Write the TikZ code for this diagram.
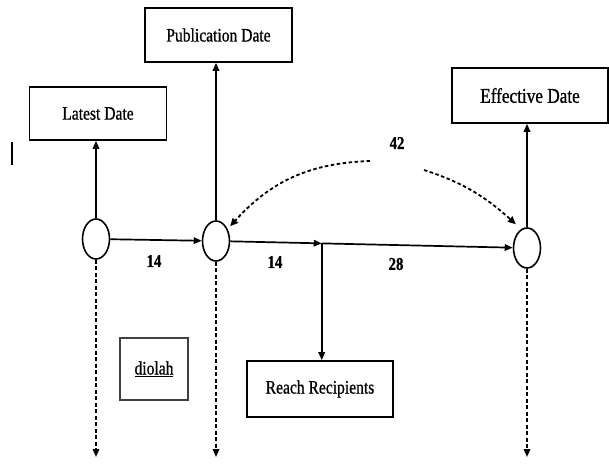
\documentclass[tikz,border=0pt]{standalone}
\usepackage{fontspec}
\setmainfont{Liberation Serif}[FakeStretch=0.82,FakeBold=0.8]
\usetikzlibrary{arrows.meta,positioning,calc,shapes.geometric}

\begin{document}
\begin{tikzpicture}[
  x=1pt,y=1pt,
  font=\fontsize{19}{22}\selectfont,
  datebox/.style={draw,line width=1.6pt,minimum width=#1,minimum height=54pt,inner sep=2pt},
  event/.style={draw,ellipse,line width=1.6pt,minimum width=27pt,minimum height=40pt,inner sep=0pt},
  flow/.style={-{Triangle[length=8pt,width=6.5pt]},line width=1.7pt},
  drop/.style={-{Triangle[length=8pt,width=6.5pt]},line width=1.6pt,dash pattern=on 4pt off 2.5pt},
  lag/.style={-{Triangle[length=8pt,width=7pt]},line width=1.8pt,dash pattern=on 3.5pt off 2.5pt},
  num/.style={font=\bfseries\fontsize{18}{21}\selectfont,inner sep=1pt}
]
\useasboundingbox[fill=white] (0,0) rectangle (609,464);
\node[event] (c1) at (96,225) {};
\node[event] (c2) at (216,223) {};
\node[event] (c3) at (527,216) {};
\coordinate (j) at ($(c2)!0.34!(c3)$);
\node[datebox=137pt,minimum height=53pt] (latest) at (98,350.5) {Latest Date};
\node[datebox=147pt] (pub) at (218.5,429) {Publication Date};
\node[datebox=156pt,minimum height=55pt,font=\fontsize{21}{24}\selectfont] (eff) at (530,368.5) {Effective Date};
\node[datebox=146pt,minimum height=56pt] (reach) at (320,75) {Reach Recipients};
\node[datebox=68pt,minimum height=62pt,draw=black!75,line width=1.2pt] (diolah) at (154,95) {\underline{diolah}};
% timeline
\foreach \ev/\target in {c1/latest,c2/pub,c3/eff}
  \draw[flow] (\ev) -- (\ev |- \target.south);
\draw[flow] (c1) -- (c2);
\draw[flow] (c2) -- (j);
\draw[flow] (j) -- (c3);
\draw[flow] (j) -- (j |- reach.north);
\coordinate (floor) at (0,7);
\foreach \ev in {c1,c2,c3}
  \draw[drop] (\ev) -- (\ev |- floor);
% day counts
\node[num] (d1) at (154,203) {14};
\node[num] (d2) at (275,202) {14};
\node[num] (d3) at (396,200) {28};
\node[num] (d4) at (397,321) {42};
\coordinate (l42) at (370,303);
\coordinate (r42) at (424,294);
\draw[lag] (l42) to[out=182,in=48] ([xshift=4pt]c2.north east);
\draw[lag] (r42) to[out=-18,in=138] ([shift={(-1pt,9pt)}]c3.north west);
\coordinate (m1) at (12,299);
\coordinate (m2) at (12,322);
\draw[line width=1.5pt] (m1) -- (m2);
\end{tikzpicture}
\end{document}
